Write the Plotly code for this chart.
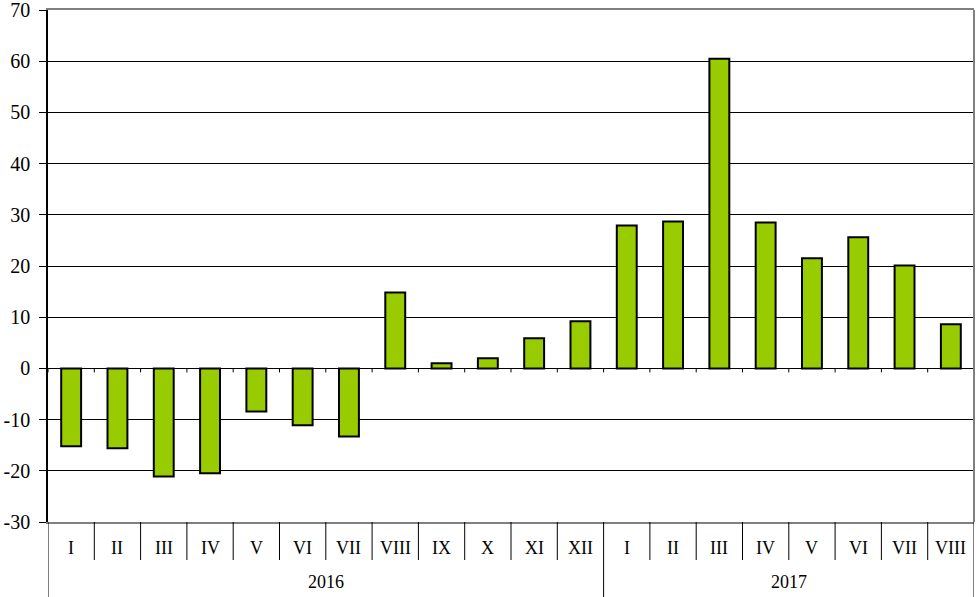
import plotly.graph_objects as go

months = ["I", "II", "III", "IV", "V", "VI", "VII", "VIII", "IX", "X", "XI", "XII",
          "I", "II", "III", "IV", "V", "VI", "VII", "VIII"]
years = ["2016", "2017"]
year_counts = [12, 8]
values = [-15.2, -15.6, -21.1, -20.5, -8.4, -11.1, -13.3, 14.8, 1.0, 2.0, 5.9, 9.2,
          27.9, 28.7, 60.5, 28.5, 21.5, 25.6, 20.1, 8.6]
y_ticks = [-30, -20, -10, 0, 10, 20, 30, 40, 50, 60, 70]

FONT = "Liberation Serif"
n = len(months)
xs = list(range(n))

fig = go.Figure()
fig.add_trace(go.Bar(
    x=xs, y=values, width=0.43,
    marker=dict(color="#99CC00", line=dict(color="black", width=2)),
    showlegend=False, hoverinfo="y",
))

shapes = []
for i in range(n + 1):
    shapes.append(dict(type="line", xref="x", yref="y", x0=i - 0.5, x1=i - 0.5,
                       ysizemode="pixel", yanchor=0, y0=0, y1=-4,
                       line=dict(color="black", width=1)))
boundaries = set([-0.5, n - 0.5])
c = 0
for cnt in year_counts:
    c += cnt
    boundaries.add(c - 0.5)
for i in range(n + 1):
    b = i - 0.5
    length = -75 if b in boundaries else -38
    shapes.append(dict(type="line", xref="x", yref="paper", x0=b, x1=b,
                       ysizemode="pixel", yanchor=0, y0=0, y1=length,
                       line=dict(color="black", width=1)))
shapes.append(dict(type="line", xref="paper", yref="paper", x0=1, x1=1, y0=0, y1=1,
                   line=dict(color="#808080", width=2)))

annotations = []
for i, m in enumerate(months):
    annotations.append(dict(x=i, y=0, xref="x", yref="paper", text=m, showarrow=False,
                            xanchor="center", yanchor="middle",
                            yshift=-26, font=dict(family=FONT, size=18, color="black")))
start = 0
for yr, cnt in zip(years, year_counts):
    center = start + (cnt - 1) / 2
    annotations.append(dict(x=center, y=0, xref="x", yref="paper", text=yr, showarrow=False,
                            xanchor="center", yanchor="middle",
                            yshift=-60, font=dict(family=FONT, size=18, color="black")))
    start += cnt

fig.update_layout(
    width=979, height=597,
    margin=dict(l=48, r=5, t=10, b=75, autoexpand=False),
    paper_bgcolor="white", plot_bgcolor="white",
    font=dict(family=FONT),
    xaxis=dict(range=[-0.5, n - 0.5], showticklabels=False, showgrid=False, zeroline=False,
               showline=True, linecolor="#808080", linewidth=2, mirror=True, ticks="",
               automargin=False),
    yaxis=dict(range=[-30, 70], tickvals=y_ticks, ticktext=[str(v) for v in y_ticks],
               showgrid=True, gridcolor="black", gridwidth=1,
               zeroline=True, zerolinecolor="black", zerolinewidth=1,
               showline=True, linecolor="black", linewidth=1.5,
               ticks="outside", ticklen=7, tickcolor="black", automargin=False,
               ticklabeloverflow="allow", ticklabelstandoff=5,
               tickfont=dict(family=FONT, size=20, color="black")),
    shapes=shapes,
    annotations=annotations,
)

fig.write_html("out.html", config={"displayModeBar": False},
               post_script="document.body.style.margin='0px';document.body.style.overflow='hidden';")
